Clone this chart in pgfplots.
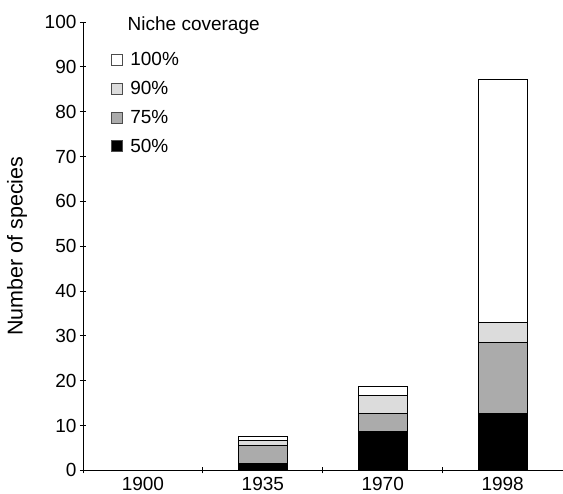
\documentclass[border=0pt]{standalone}
\usepackage{pgfplots}
\pgfplotsset{compat=1.18}
\usepackage{fontspec}
\setmainfont{Liberation Sans}
\definecolor{midgray}{RGB}{171,171,171}
\definecolor{lightgray}{RGB}{220,220,220}
\begin{document}
\begin{tikzpicture}
\begin{axis}[
  name=ax,
  scale only axis,
  width=480pt, height=448.7pt,
  clip=false,
  ybar stacked,
  bar width=49pt,
  xmin=-0.5, xmax=3.5,
  ymin=0, ymax=100,
  ytick={0,10,...,100},
  xtick={0,1,2,3},
  xticklabels={1900,1935,1970,1998},
  major x tick style={draw=none},
  minor xtick={-0.5,0.5,1.5,2.5},
  minor tick length=6pt,
  major tick length=6pt,
  tick align=outside,
  axis x line=bottom, axis y line=left,
  axis line style={-, line width=0.8pt},
  every tick/.style={black, line width=0.8pt},
  /pgf/number format/assume math mode=true,
  tick label style={font=\fontsize{19}{21}\selectfont},
  ylabel={Number of species},
  every axis y label/.style={at={(axis description cs:-0.1375,0.5)}, rotate=90, anchor=center, font=\fontsize{21.5}{24}\selectfont},
  reverse legend,
  legend cell align=left,
  legend style={draw=none, fill=none, at={(axis description cs:0.052,0.941)}, anchor=north west,
    font=\fontsize{19}{21}\selectfont, row sep=10pt},
  legend image code/.code={\draw[#1, draw=black!70, line width=0.6pt] (0pt,-5.5pt) rectangle (11pt,5.5pt);
    \path[draw=none, fill=none] (11pt,0pt) -- (17pt,0pt);},
]
\addplot[fill=black, draw=black, line width=0.8pt] coordinates {(1,1.5) (2,8.7) (3,12.6)};
\addplot[fill=midgray, draw=black, line width=0.8pt] coordinates {(1,4.1) (2,3.9) (3,16.0)};
\addplot[fill=lightgray, draw=black, line width=0.8pt] coordinates {(1,1.1) (2,4.1) (3,4.4)};
\addplot[fill=white, draw=black, line width=0.8pt] coordinates {(1,0.9) (2,2.0) (3,54.3)};
\legend{50\%,75\%,90\%,100\%}
\node[anchor=west, font=\fontsize{19}{21}\selectfont] at (axis description cs:0.086,0.993) {Niche coverage};
\end{axis}
\path ([xshift=-83pt,yshift=-22.3pt]ax.south west) rectangle ([yshift=22pt]ax.north east);
\end{tikzpicture}
\end{document}
